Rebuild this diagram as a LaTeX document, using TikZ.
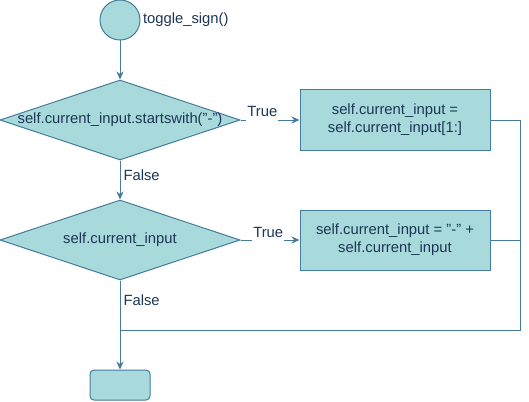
\documentclass[tikz,border=0pt]{standalone}
\usepackage{fontspec}
\setmainfont{Liberation Sans}
\usetikzlibrary{shapes.geometric}
\usetikzlibrary{arrows.meta}
\definecolor{boxfill}{HTML}{A8DADC}
\definecolor{boxline}{HTML}{457B9D}
\definecolor{boxtext}{HTML}{1D3557}
\tikzstyle{terminal}=[circle,fill=boxfill,draw=boxline,minimum size=40pt,inner sep=0pt]
\tikzstyle{decision}=[diamond,fill=boxfill,draw=boxline,minimum width=240pt,minimum height=80pt,inner sep=0pt]
\tikzstyle{process}=[rectangle,fill=boxfill,draw=boxline,minimum width=190pt,minimum height=60pt,align=center]
\tikzstyle{finishbox}=[rectangle,rounded corners=4pt,fill=boxfill,draw=boxline,minimum width=60pt,minimum height=30pt]
\tikzstyle{edge} = [draw,->]
\tikzstyle{undirectededge} = [draw]
\tikzstyle{truelabel} = [fill=white,inner xsep=1pt,inner ysep=4pt,anchor=base,yshift=3pt]
\tikzstyle{falselabel} = [anchor=west,inner sep=3pt]

\begin{document}
\begin{tikzpicture}[x=1pt,y=-1pt,line width=1pt,boxline,text=boxtext,
    font=\fontsize{14.8}{18}\selectfont,>={Stealth[length=8pt,width=7pt,inset=2.5pt]}]
    \useasboundingbox (0,0) rectangle (529,401);

    \node[terminal] (start) at (120,20) {};
    \node[anchor=west,inner sep=0pt] (startname) at (142.5,20) {toggle\_sign()};

    \node[decision,label=center:{self.current\_input.startswith("-")}] (cond1) at (120,120) {};
    \node[decision,label=center:{self.current\_input}] (cond2) at (120,240) {};

    \node[process] (strip) at (395,120) {self.current\_input =\\ self.current\_input[1:]};
    \node[process] (prepend) at (395,240) {self.current\_input = "-" +\\ self.current\_input};

    \node[finishbox] (finish) at (120,385) {};

    \coordinate (rtop) at (520,120);
    \coordinate (rmid) at (520,240);
    \coordinate (rbot) at (520,330);
    \coordinate (join) at (120,330);

    \path[edge] (start) -- (cond1);

    \foreach \source/\dest/\where in {cond1/cond2/0.37, cond2/finish/0.22}
        \path[edge] (\source) -- node[falselabel,pos=\where] {False} (\dest);

    \foreach \source/\dest/\where in {cond1/strip/0.37, cond2/prepend/0.47}
        \path[edge] (\source) -- node[truelabel,pos=\where] {True} (\dest);

    \path[undirectededge] (strip) -- (rtop) -- (rbot) -- (join);
    \path[undirectededge] (prepend) -- (rmid);

\end{tikzpicture}
\end{document}
